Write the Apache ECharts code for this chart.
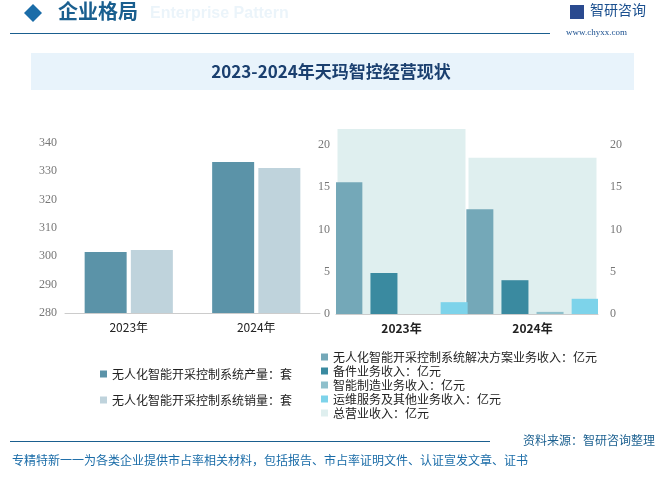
<!DOCTYPE html><html><head><meta charset="utf-8"><script src="https://cdn.jsdelivr.net/npm/echarts@6/dist/echarts.min.js"></script></head><body style="margin:0"><div id="c" style="width:661px;height:480px"></div><script>
const years=['2023年','2024年'];
const production=[301.5,333.3];
const sales=[302.2,331.2];
const solution=[15.6,12.4];
const parts=[4.85,4.0];
const manufacturing=[0,0.25];
const other=[1.4,1.8];
const total=[21.9,18.5];
const c=echarts.init(document.getElementById('c'));
const F='"Noto Sans CJK SC"';
const ax={axisLine:{show:false},axisTick:{show:false},splitLine:{show:false},axisLabel:{color:'#777',fontSize:12,fontFamily:'Liberation Serif'}};
c.setOption({
textStyle:{fontFamily:F},
graphic:[
{type:'polygon',shape:{points:[[24,13],[33,4],[42,13],[33,22]]},style:{fill:'#1a6ca8'}},
{type:'text',left:58,top:1,style:{text:'企业格局',font:'bold 20px '+F,fill:'#1a5f8f'}},
{type:'text',left:150,top:6,style:{text:'Enterprise Pattern',font:'bold 16px sans-serif',fill:'rgba(120,180,220,0.15)'}},
{type:'rect',shape:{x:10,y:33,width:540,height:1},style:{fill:'#1a5f8f'}},
{type:'text',left:590,top:3,style:{text:'智研咨询',font:'14px '+F,fill:'#1a4f8f'}},
{type:'rect',shape:{x:570,y:5,width:14,height:14},style:{fill:'#2a4a8f'}},
{type:'text',left:566,top:28,style:{text:'www.chyxx.com',font:'9px Liberation Serif',fill:'#1a4f8f'}},
{type:'rect',shape:{x:31,y:53,width:603,height:37},style:{fill:'#e8f3fb'}},
{type:'text',x:331,y:72,style:{text:'2023-2024年天玛智控经营现状',font:'bold 17px '+F,fill:'#1a3f6f',align:'center',verticalAlign:'middle'}},
{type:'text',right:6,top:434,style:{text:'资料来源：智研咨询整理',font:'12px '+F,fill:'#1a5f8f'}},
{type:'rect',shape:{x:10,y:441,width:480,height:1},style:{fill:'#1a5f8f'}},
{type:'text',left:12,top:454,style:{text:'专精特新一一为各类企业提供市占率相关材料，包括报告、市占率证明文件、认证宣发文章、证书',font:'12px '+F,fill:'#1a6ca8'}}
],
legend:[
{left:95,top:363,orient:'vertical',itemGap:14,itemWidth:7,itemHeight:7,icon:'rect',textStyle:{fontSize:12,color:'#222'},data:['无人化智能开采控制系统产量：套','无人化智能开采控制系统销量：套']},
{left:316,top:346,orient:'vertical',itemGap:2,itemWidth:7,itemHeight:7,icon:'rect',textStyle:{fontSize:12,color:'#222'},data:['无人化智能开采控制系统解决方案业务收入：亿元','备件业务收入：亿元','智能制造业务收入：亿元','运维服务及其他业务收入：亿元','总营业收入：亿元']}
],
grid:[{left:65,right:341,top:143,bottom:167},{left:336,right:63,top:145,bottom:166}],
xAxis:[
{gridIndex:0,type:'category',data:years,axisTick:{show:false},axisLine:{lineStyle:{color:'#ccc'}},axisLabel:{color:'#222',fontSize:12}},
{gridIndex:1,type:'category',data:years,axisTick:{show:false},axisLine:{lineStyle:{color:'#ccc'}},axisLabel:{color:'#222',fontSize:12,fontWeight:'bold'}},
{gridIndex:1,type:'category',data:years,show:false}
],
yAxis:[
Object.assign({gridIndex:0,min:280,max:340,interval:10},ax),
Object.assign({gridIndex:1,min:0,max:20,interval:5},ax,{axisLabel:Object.assign({},ax.axisLabel,{margin:6})}),
Object.assign({gridIndex:1,min:0,max:20,interval:5,position:'right'},ax,{axisLabel:Object.assign({},ax.axisLabel,{margin:12})})
],
series:[
{name:'无人化智能开采控制系统产量：套',type:'bar',xAxisIndex:0,yAxisIndex:0,data:production,barWidth:42,barGap:'10%',itemStyle:{color:'#5b93a8'}},
{name:'无人化智能开采控制系统销量：套',type:'bar',xAxisIndex:0,yAxisIndex:0,data:sales,barWidth:42,itemStyle:{color:'#bfd3dc'}},
{name:'总营业收入：亿元',type:'bar',xAxisIndex:2,yAxisIndex:1,data:total,barWidth:128,clip:false,itemStyle:{color:'#dfefef'},z:1},
{name:'无人化智能开采控制系统解决方案业务收入：亿元',type:'bar',xAxisIndex:1,yAxisIndex:1,data:solution,barWidth:27,barGap:'30%',itemStyle:{color:'#74a8b8'},z:2},
{name:'备件业务收入：亿元',type:'bar',xAxisIndex:1,yAxisIndex:1,data:parts,barWidth:27,itemStyle:{color:'#3a8aa0'},z:2},
{name:'智能制造业务收入：亿元',type:'bar',xAxisIndex:1,yAxisIndex:1,data:manufacturing,barWidth:27,itemStyle:{color:'#8fc0cc'},z:2},
{name:'运维服务及其他业务收入：亿元',type:'bar',xAxisIndex:1,yAxisIndex:1,data:other,barWidth:27,itemStyle:{color:'#7dd3ea'},z:2}
]});
</script></body></html>
